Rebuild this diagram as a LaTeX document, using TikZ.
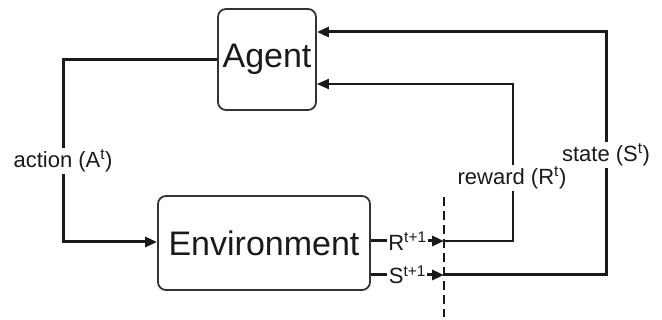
\documentclass[tikz,border=0pt]{standalone}
\usepackage{fontspec}
\setmainfont{Liberation Sans}
\usetikzlibrary{arrows.meta}
\definecolor{ink}{HTML}{1A1A1A}
\definecolor{boxline}{HTML}{333333}
\tikzset{
  blockbox/.style={draw=boxline, line width=1.8pt, rounded corners=8pt, inner sep=0pt,
    font=\fontsize{34}{40}\selectfont, text=ink},
  heavy/.style={draw=ink, line width=3pt},
  light/.style={draw=ink, line width=2pt},
  tip/.style={-{Triangle[length=12pt,width=10pt]}},
  lbl/.style={fill=white, inner sep=2pt, font=\fontsize{22}{26}\selectfont, text=ink},
  sig/.style={fill=white, inner sep=1.5pt, font=\fontsize{22}{26}\selectfont, text=ink},
  cut/.style={draw=ink, line width=2pt, dash pattern=on 9pt off 5pt},
}
\begin{document}
\begin{tikzpicture}[x=1pt, y=-1pt]
\useasboundingbox (0,0) rectangle (662,320);

% blocks
\node[blockbox, minimum width=98pt, minimum height=101pt] (agent) at (267,59.5) {Agent};
\node[blockbox, minimum width=212pt, minimum height=94pt] (env) at (264,243) {Environment};

% sampling boundary
\coordinate (dtop) at (444,197);
\coordinate (dbot) at (444,317);
\draw[cut] (dtop) -- (dbot);

% outputs of the environment
\coordinate (rt) at (444,241);
\coordinate (st) at (444,275);
\draw[heavy, tip] (env.east |- rt) -- node[sig] {R\textsuperscript{t+1}} (rt);
\draw[heavy, tip] (env.east |- st) -- node[sig] {S\textsuperscript{t+1}} (st);

% reward feedback
\coordinate (rc1) at (513,241);
\coordinate (rc2) at (513,84);
\draw[light, tip] (rt) -- (rc1) -- (rc2) -- (agent.east |- rc2);
\node[lbl] (rlab) at (512,178) {reward (R\textsuperscript{t})};

% state feedback
\coordinate (sc1) at (606,275);
\coordinate (sc2) at (606,32);
\draw[heavy, tip] (st) -- (sc1) -- (sc2) -- (agent.east |- sc2);
\node[lbl] (slab) at (606,155) {state (S\textsuperscript{t})};

% action
\coordinate (ac1) at (63,59.5);
\coordinate (ac2) at (63,242);
\draw[heavy, tip] (agent.west) -- (ac1) -- (ac2) -- (env.west |- ac2);
\node[lbl] (alab) at (63,161) {action (A\textsuperscript{t})};
\end{tikzpicture}
\end{document}
